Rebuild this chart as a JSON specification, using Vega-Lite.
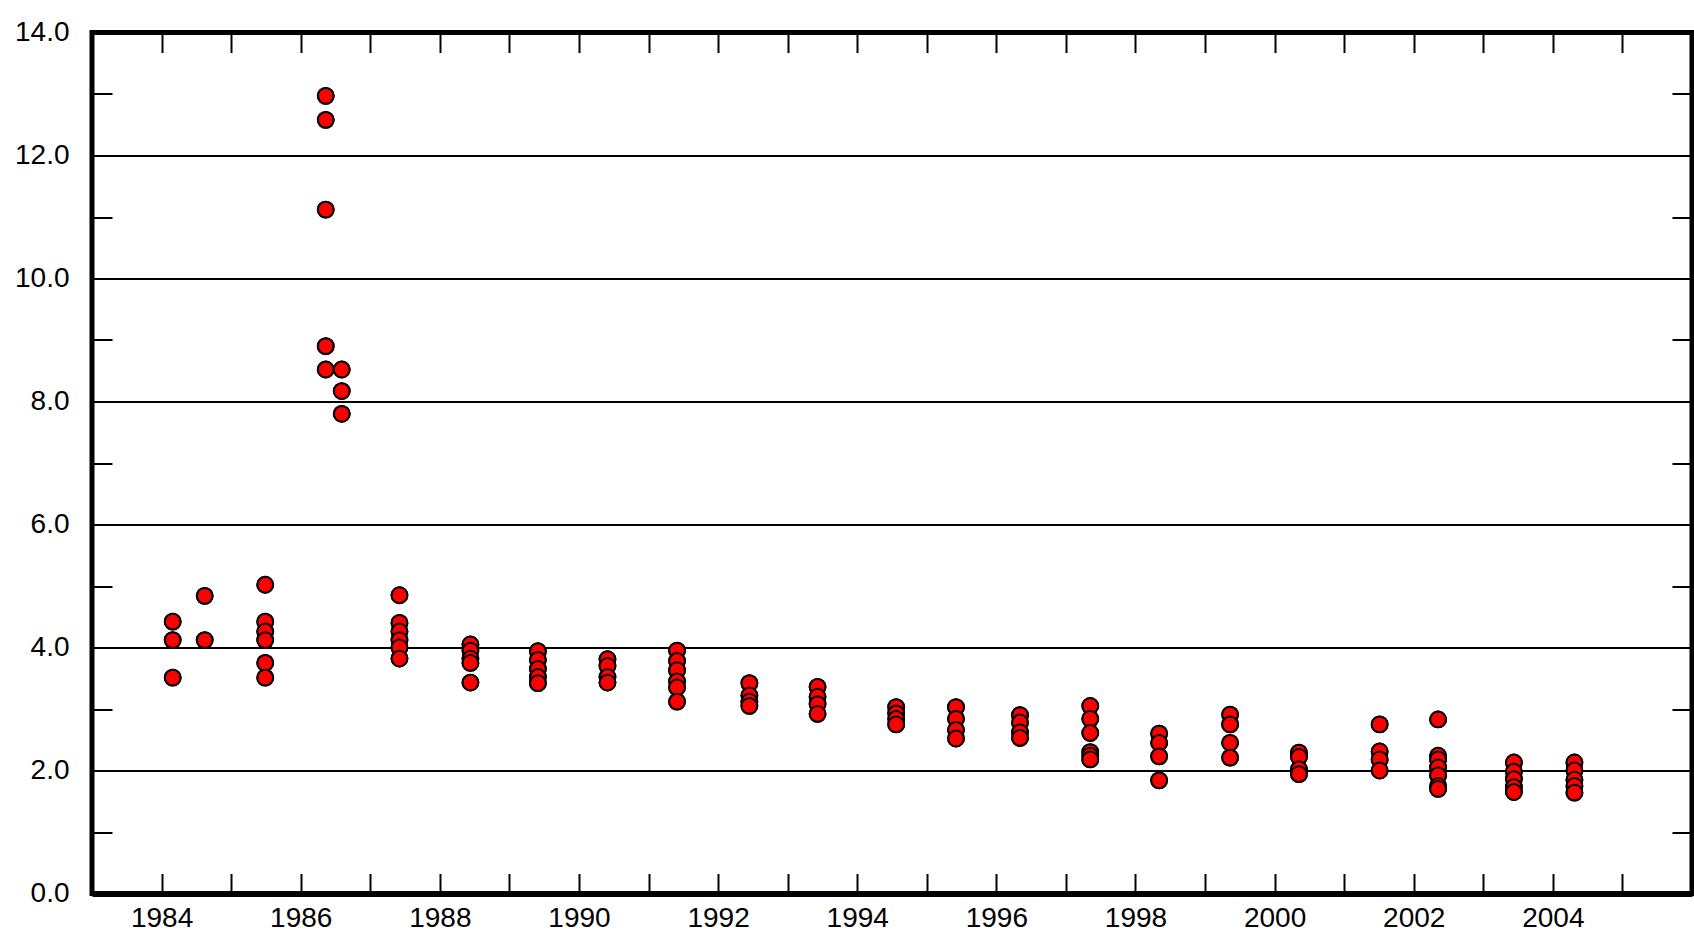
{
  "$schema": "https://vega.github.io/schema/vega-lite/v6.json",
  "autosize": "none",
  "width": 1600,
  "height": 861,
  "padding": {"left": 92, "top": 32.5, "right": 2, "bottom": 39.5},
  "background": "white",
  "config": {
    "view": {"stroke": "black", "strokeWidth": 5},
    "axis": {
      "labelFont": "Liberation Sans",
      "labelFontSize": 28,
      "labelColor": "black",
      "tickColor": "black",
      "tickWidth": 2,
      "tickSize": -20,
      "domain": false,
      "title": null
    }
  },
  "data": {
    "values": [
      {"year": 1984.16, "value": 4.42}, {"year": 1984.16, "value": 4.12}, {"year": 1984.16, "value": 3.51},
      {"year": 1984.62, "value": 4.84}, {"year": 1984.62, "value": 4.12},
      {"year": 1985.49, "value": 5.02}, {"year": 1985.49, "value": 4.42}, {"year": 1985.49, "value": 4.26},
      {"year": 1985.49, "value": 4.12}, {"year": 1985.49, "value": 3.75}, {"year": 1985.49, "value": 3.51},
      {"year": 1986.36, "value": 12.97}, {"year": 1986.36, "value": 12.58}, {"year": 1986.36, "value": 11.12},
      {"year": 1986.36, "value": 8.9}, {"year": 1986.36, "value": 8.52},
      {"year": 1986.59, "value": 8.52}, {"year": 1986.59, "value": 8.17}, {"year": 1986.59, "value": 7.8},
      {"year": 1987.42, "value": 4.85}, {"year": 1987.42, "value": 4.4}, {"year": 1987.42, "value": 4.26},
      {"year": 1987.42, "value": 4.12}, {"year": 1987.42, "value": 4.0}, {"year": 1987.42, "value": 3.82},
      {"year": 1988.44, "value": 4.05}, {"year": 1988.44, "value": 3.95}, {"year": 1988.44, "value": 3.82},
      {"year": 1988.44, "value": 3.75}, {"year": 1988.44, "value": 3.43},
      {"year": 1989.41, "value": 3.94}, {"year": 1989.41, "value": 3.8}, {"year": 1989.41, "value": 3.65},
      {"year": 1989.41, "value": 3.52}, {"year": 1989.41, "value": 3.42},
      {"year": 1990.41, "value": 3.81}, {"year": 1990.41, "value": 3.7}, {"year": 1990.41, "value": 3.52},
      {"year": 1990.41, "value": 3.43},
      {"year": 1991.41, "value": 3.95}, {"year": 1991.41, "value": 3.78}, {"year": 1991.41, "value": 3.63},
      {"year": 1991.41, "value": 3.45}, {"year": 1991.41, "value": 3.35}, {"year": 1991.41, "value": 3.12},
      {"year": 1992.45, "value": 3.42}, {"year": 1992.45, "value": 3.22}, {"year": 1992.45, "value": 3.12},
      {"year": 1992.45, "value": 3.05},
      {"year": 1993.43, "value": 3.36}, {"year": 1993.43, "value": 3.2}, {"year": 1993.43, "value": 3.08},
      {"year": 1993.43, "value": 2.92},
      {"year": 1994.56, "value": 3.03}, {"year": 1994.56, "value": 2.93}, {"year": 1994.56, "value": 2.84},
      {"year": 1994.56, "value": 2.75},
      {"year": 1995.42, "value": 3.03}, {"year": 1995.42, "value": 2.84}, {"year": 1995.42, "value": 2.66},
      {"year": 1995.42, "value": 2.52},
      {"year": 1996.34, "value": 2.9}, {"year": 1996.34, "value": 2.78}, {"year": 1996.34, "value": 2.62},
      {"year": 1996.34, "value": 2.53},
      {"year": 1997.35, "value": 3.05}, {"year": 1997.35, "value": 2.84}, {"year": 1997.35, "value": 2.61},
      {"year": 1997.35, "value": 2.3}, {"year": 1997.35, "value": 2.24}, {"year": 1997.35, "value": 2.18},
      {"year": 1998.34, "value": 2.6}, {"year": 1998.34, "value": 2.45}, {"year": 1998.34, "value": 2.23},
      {"year": 1998.34, "value": 1.84},
      {"year": 1999.36, "value": 2.91}, {"year": 1999.36, "value": 2.75}, {"year": 1999.36, "value": 2.45},
      {"year": 1999.36, "value": 2.21},
      {"year": 2000.35, "value": 2.29}, {"year": 2000.35, "value": 2.22}, {"year": 2000.35, "value": 2.02},
      {"year": 2000.35, "value": 1.94},
      {"year": 2001.51, "value": 2.75}, {"year": 2001.51, "value": 2.31}, {"year": 2001.51, "value": 2.18},
      {"year": 2001.51, "value": 2.0},
      {"year": 2002.35, "value": 2.83}, {"year": 2002.35, "value": 2.24}, {"year": 2002.35, "value": 2.18},
      {"year": 2002.35, "value": 2.05}, {"year": 2002.35, "value": 1.92}, {"year": 2002.35, "value": 1.75},
      {"year": 2002.35, "value": 1.7},
      {"year": 2003.44, "value": 2.13}, {"year": 2003.44, "value": 1.98}, {"year": 2003.44, "value": 1.86},
      {"year": 2003.44, "value": 1.73}, {"year": 2003.44, "value": 1.65},
      {"year": 2004.31, "value": 2.13}, {"year": 2004.31, "value": 2.0}, {"year": 2004.31, "value": 1.85},
      {"year": 2004.31, "value": 1.75}, {"year": 2004.31, "value": 1.64}
    ]
  },
  "resolve": {"axis": {"x": "independent", "y": "independent"}},
  "layer": [
    {
      "mark": {"type": "point", "filled": true, "shape": "circle", "size": 250, "fill": "#ff0000", "stroke": "black", "strokeWidth": 2, "opacity": 1},
      "encoding": {
        "x": {
          "field": "year", "type": "quantitative",
          "scale": {"domain": [1983, 2006], "nice": false, "zero": false},
          "axis": {
            "orient": "bottom",
            "values": [1984, 1985, 1986, 1987, 1988, 1989, 1990, 1991, 1992, 1993, 1994, 1995, 1996, 1997, 1998, 1999, 2000, 2001, 2002, 2003, 2004, 2005],
            "labelExpr": "datum.value % 2 === 0 ? format(datum.value, 'd') : ''",
            "labelBaseline": "top",
            "labelPadding": 31,
            "labelFlush": false,
            "labelOverlap": false,
            "domain": true,
            "domainColor": "black",
            "domainWidth": 6,
            "grid": false
          }
        },
        "y": {
          "field": "value", "type": "quantitative",
          "scale": {"domain": [0, 14], "nice": false, "zero": true},
          "axis": {
            "orient": "left",
            "values": [0, 1, 2, 3, 4, 5, 6, 7, 8, 9, 10, 11, 12, 13, 14],
            "labelExpr": "datum.value % 2 === 0 ? format(datum.value, '.1f') : ''",
            "labelPadding": 43,
            "labelFlush": false,
            "labelOverlap": false,
            "grid": true,
            "gridColor": "black",
            "gridWidth": 2,
            "gridOpacity": {"condition": {"test": "datum.value % 2 === 1", "value": 0}, "value": 1}
          }
        }
      }
    },
    {
      "mark": {"type": "point", "filled": true, "shape": "circle", "size": 250, "fill": "#ff0000", "stroke": "black", "strokeWidth": 2, "opacity": 1},
      "encoding": {
        "x": {
          "field": "year", "type": "quantitative",
          "axis": {
            "orient": "top",
            "values": [1984, 1985, 1986, 1987, 1988, 1989, 1990, 1991, 1992, 1993, 1994, 1995, 1996, 1997, 1998, 1999, 2000, 2001, 2002, 2003, 2004, 2005],
            "labels": false,
            "grid": false
          }
        },
        "y": {
          "field": "value", "type": "quantitative",
          "axis": {
            "orient": "right",
            "values": [0, 1, 2, 3, 4, 5, 6, 7, 8, 9, 10, 11, 12, 13, 14],
            "labels": false,
            "grid": false
          }
        }
      }
    }
  ]
}
